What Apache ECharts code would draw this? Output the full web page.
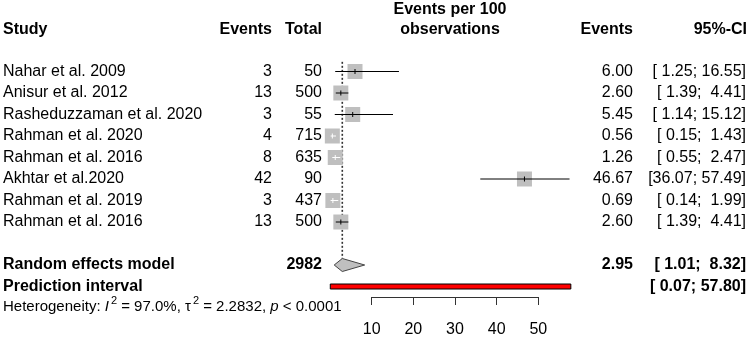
<!DOCTYPE html>
<html>
<head>
<meta charset="utf-8">
<script src="https://cdn.jsdelivr.net/npm/echarts@6/dist/echarts.min.js"></script>
<style>
  html, body { margin: 0; padding: 0; background: #fff; }
  #chart { width: 750px; height: 338px; }
</style>
</head>
<body>
<div id="chart"></div>
<script>
const studies = [
  'Nahar et al. 2009', 'Anisur et al. 2012', 'Rasheduzzaman et al. 2020', 'Rahman et al. 2020',
  'Rahman et al. 2016', 'Akhtar et al.2020', 'Rahman et al. 2019', 'Rahman et al. 2016'
]
const events = [3, 13, 3, 4, 8, 42, 3, 13]
const totals = [50, 500, 55, 715, 635, 90, 437, 500]
const rates = [6.00, 2.60, 5.45, 0.56, 1.26, 46.67, 0.69, 2.60]
const lower = [1.25, 1.39, 1.14, 0.15, 0.55, 36.07, 0.14, 1.39]
const upper = [16.55, 4.41, 15.12, 1.43, 2.47, 57.49, 1.99, 4.41]

const pooledTotal = 2982
const pooledRate = 2.95
const pooledLower = 1.01
const pooledUpper = 8.32
const predLower = 0.07
const predUpper = 57.80

const xTicks = [10, 20, 30, 40, 50]

const FONT = '"Liberation Sans", Arial, sans-serif'
const BOX = 15
const ROW_RE = 9      // random effects row
const ROW_PI = 10     // prediction interval row

const pad = v => {
  const s = v.toFixed(2)
  return s.length < 5 ? ' ' + s : s
}
const ciText = (lo, hi) => '[' + pad(lo) + '; ' + pad(hi) + ']'

// table rows (text)
const tableRows = studies.map((s, i) => ({
  row: i, bold: false,
  study: s, events: String(events[i]), total: String(totals[i]),
  rate: rates[i].toFixed(2), ci: ciText(lower[i], upper[i])
}))
tableRows.push({
  row: ROW_RE, bold: true, study: 'Random effects model', events: '', total: String(pooledTotal),
  rate: pooledRate.toFixed(2), ci: ciText(pooledLower, pooledUpper)
})
tableRows.push({
  row: ROW_PI, bold: true, study: 'Prediction interval', events: '', total: '',
  rate: '', ci: ciText(predLower, predUpper)
})

const txt = (x, y, text, align, bold, size) => ({
  type: 'text',
  style: {
    x, y, text, align, verticalAlign: 'middle',
    font: (bold ? 'bold ' : '') + (size || 16) + 'px ' + FONT,
    fill: '#000'
  }
})

const chart = echarts.init(document.getElementById('chart'))

const option = {
  backgroundColor: '#fff',
  animation: false,
  grid: [
    { left: 330, width: 250, top: 7, height: 322.5 },
    { left: 330 + 10 * 250 / 60, width: 40 * 250 / 60, top: 296, height: 1 }
  ],
  xAxis: [
    { gridIndex: 0, type: 'value', min: 0, max: 60, show: false },
    {
      gridIndex: 1, type: 'value', min: 10, max: 50, interval: 10, position: 'bottom',
      axisLine: { show: true, onZero: false, lineStyle: { color: '#333', width: 1 } },
      axisTick: { show: true, length: 8, lineStyle: { color: '#333', width: 1 } },
      axisLabel: {
        color: '#000', fontSize: 16, fontFamily: FONT, margin: 25,
        customValues: xTicks
      },
      splitLine: { show: false }
    }
  ],
  yAxis: [
    { gridIndex: 0, type: 'value', inverse: true, min: -3, max: 12, show: false },
    { gridIndex: 1, type: 'value', show: false }
  ],
  series: [
    // dotted summary line
    {
      type: 'custom', xAxisIndex: 0, yAxisIndex: 0, clip: false, silent: true,
      data: [[pooledRate, -0.45, ROW_RE]],
      renderItem: (params, api) => {
        const top = api.coord([api.value(0), api.value(1)])
        const bot = api.coord([api.value(0), api.value(2)])
        return {
          type: 'line',
          shape: { x1: top[0], y1: top[1], x2: bot[0], y2: bot[1] - 6.5 },
          style: { stroke: '#333', lineWidth: 1.6, lineDash: [2, 2] }
        }
      }
    },
    // study boxes + CIs
    {
      type: 'custom', xAxisIndex: 0, yAxisIndex: 0, clip: false, silent: true,
      data: studies.map((s, i) => [rates[i], i, lower[i], upper[i]]),
      renderItem: (params, api) => {
        const c = api.coord([api.value(0), api.value(1)])
        const lo = api.coord([api.value(2), api.value(1)])
        const hi = api.coord([api.value(3), api.value(1)])
        const inside = lo[0] >= c[0] - BOX / 2 && hi[0] <= c[0] + BOX / 2
        const col = inside ? '#fff' : '#000'
        return {
          type: 'group',
          children: [
            {
              type: 'rect',
              shape: { x: c[0] - BOX / 2, y: c[1] - BOX / 2, width: BOX, height: BOX },
              style: { fill: '#bfbfbf' }
            },
            {
              type: 'line',
              shape: { x1: lo[0], y1: c[1], x2: hi[0], y2: c[1] },
              style: { stroke: col, lineWidth: 1 }
            },
            {
              type: 'line',
              shape: { x1: c[0], y1: c[1] - 2.5, x2: c[0], y2: c[1] + 2.5 },
              style: { stroke: col, lineWidth: 1 }
            }
          ]
        }
      }
    },
    // diamond
    {
      type: 'custom', xAxisIndex: 0, yAxisIndex: 0, clip: false, silent: true,
      data: [[pooledRate, ROW_RE, pooledLower, pooledUpper]],
      renderItem: (params, api) => {
        const c = api.coord([api.value(0), api.value(1)])
        const lo = api.coord([api.value(2), api.value(1)])
        const hi = api.coord([api.value(3), api.value(1)])
        return {
          type: 'polygon',
          shape: { points: [[lo[0], c[1]], [c[0], c[1] - 6.5], [hi[0], c[1]], [c[0], c[1] + 6.5]] },
          style: { fill: '#bfbfbf', stroke: '#444', lineWidth: 1 }
        }
      }
    },
    // prediction interval
    {
      type: 'custom', xAxisIndex: 0, yAxisIndex: 0, clip: false, silent: true,
      data: [[predLower, predUpper, ROW_PI]],
      renderItem: (params, api) => {
        const a = api.coord([api.value(0), api.value(2)])
        const b = api.coord([api.value(1), api.value(2)])
        return {
          type: 'rect',
          shape: { x: a[0], y: a[1] - 2.5, width: b[0] - a[0], height: 5 },
          style: { fill: '#ff0000', stroke: '#000', lineWidth: 1 }
        }
      }
    },
    // table text
    {
      type: 'custom', xAxisIndex: 0, yAxisIndex: 0, clip: false, silent: true,
      data: tableRows.map(r => [0, r.row]),
      renderItem: (params, api) => {
        const r = tableRows[params.dataIndex]
        const y = api.coord([0, api.value(1)])[1]
        return {
          type: 'group',
          children: [
            txt(3, y, r.study, 'left', r.bold),
            txt(272, y, r.events, 'right', r.bold),
            txt(322, y, r.total, 'right', r.bold),
            txt(633, y, r.rate, 'right', r.bold),
            txt(746, y, r.ci, 'right', r.bold)
          ]
        }
      }
    },
    // axis carrier for grid 1
    {
      type: 'scatter', xAxisIndex: 1, yAxisIndex: 1, data: [], silent: true
    }
  ],
  graphic: [
    txt(3, 30, 'Study', 'left', true),
    txt(272, 30, 'Events', 'right', true),
    txt(322, 30, 'Total', 'right', true),
    txt(450, 10, 'Events per 100', 'center', true),
    txt(450, 30, 'observations', 'center', true),
    txt(633, 30, 'Events', 'right', true),
    txt(747, 30, '95%-CI', 'right', true),
    {
      type: 'text',
      left: 3, top: 295,
      style: {
        text: 'Heterogeneity: {i|I}{s|2} = 97.0%, {n|τ}{s|2} = 2.2832, {i|p} < 0.0001',
        font: '15px ' + FONT, fill: '#000', lineHeight: 24,
        rich: {
          i: { fontStyle: 'italic', fontSize: 15, fontFamily: FONT, lineHeight: 24 },
          n: { fontSize: 15, fontFamily: FONT, lineHeight: 24 },
          s: { fontSize: 11, fontFamily: FONT, lineHeight: 10, verticalAlign: 'top', padding: [0, 0, 0, 2] }
        }
      }
    }
  ]
}

chart.setOption(option)
</script>
</body>
</html>
